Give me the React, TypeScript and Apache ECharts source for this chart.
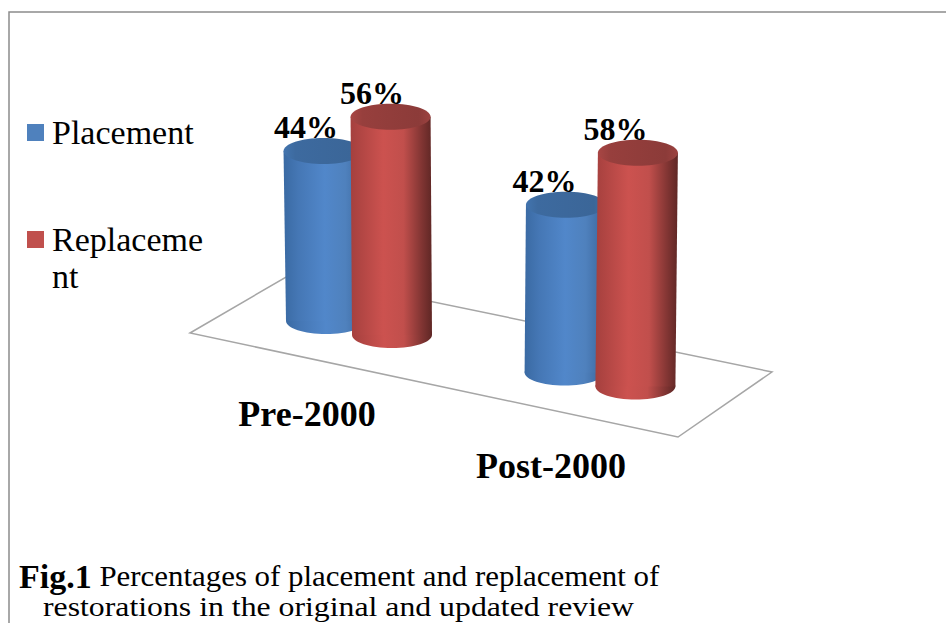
import React, { useEffect, useRef } from "react";
import * as echarts from "echarts";

const categories = ["Pre-2000", "Post-2000"];
const seriesNames = ["Placement", "Replacement"];
const placementValues = [44, 42];
const replacementValues = [56, 58];
const captionBold = "Fig.1";
const captionRest = " Percentages of placement and replacement of";
const captionLine2 = "restorations in the original and updated review";

const FONT = '"Liberation Serif", serif';
const SKEW = 0.2137;
const X0 = 359;

const hGrad = (stops: [number, string][]) => ({
  type: "linear", x: 0, y: 0, x2: 1, y2: 0,
  colorStops: stops.map(([offset, color]) => ({ offset, color })),
});

const bodyFill = [
  hGrad([[0, "#3a6aa3"], [0.18, "#4577b5"], [0.5, "#5187ca"], [0.75, "#4f81bd"], [1, "#39649a"]]),
  hGrad([[0, "#a5403e"], [0.4, "#cc524f"], [0.65, "#c14f4c"], [0.88, "#7f3432"], [1, "#5f2725"]]),
];
const topFill = [
  hGrad([[0, "#4274ae"], [0.15, "#3d6a9f"], [0.85, "#3b6698"], [1, "#4070a8"]]),
  hGrad([[0, "#a84644"], [0.15, "#973f3d"], [0.85, "#8c3b39"], [1, "#9c4240"]]),
];

const place = (api: any, s: number) => {
  const cat = api.value(0);
  const val = api.value(1);
  const base = api.coord([cat, 0]);
  const sign = s === 0 ? -1 : 1;
  const cx = base[0] + sign * (33 + (base[0] - X0) * 0.01);
  const cy = base[1] + (base[0] - X0) * SKEW + sign * 7;
  const h = api.size([0, val])[1] * (1 + (cx - X0) * 0.00014);
  return { val, cx, cy, h };
};

const renderCylinder = (params: any, api: any) => {
  const s = params.seriesIndex;
  const { cx, cy, h } = place(api, s);
  const lean = (cx - 480) * 0.016;
  const tx = cx + lean;
  const ty = cy - h;
  const rx = 40;
  const ry = 13;
  return {
    type: "group",
    children: [
      { type: "ellipse", shape: { cx, cy, rx, ry }, style: { fill: bodyFill[s] } },
      {
        type: "polygon",
        shape: { points: [[tx - rx, ty], [tx + rx, ty], [cx + rx, cy], [cx - rx, cy]] },
        style: { fill: bodyFill[s] },
      },
      { type: "ellipse", shape: { cx: tx, cy: ty, rx, ry }, style: { fill: topFill[s] } },
    ],
  };
};

const renderValueLabel = (params: any, api: any) => {
  const s = params.seriesIndex - 2;
  const { val, cx, cy, h } = place(api, s);
  return {
    type: "text",
    x: cx - 20,
    y: cy - h - 24,
    style: {
      text: `${val}%`,
      font: `bold 32px ${FONT}`,
      fill: "#000",
      align: "center",
      verticalAlign: "middle",
      textAlign: "center",
      textVerticalAlign: "middle",
    },
  };
};

const renderCategoryLabel = (_params: any, api: any) => {
  const cat = api.value(0);
  const base = api.coord([cat, 0]);
  return {
    type: "text",
    x: base[0] - 52 + (base[0] - X0) * 0.012,
    y: base[1] + (base[0] - X0) * SKEW + 86,
    style: {
      text: categories[cat],
      font: `bold 36px ${FONT}`,
      fill: "#000",
      align: "center",
      verticalAlign: "middle",
      textAlign: "center",
      textVerticalAlign: "middle",
    },
  };
};

export default function App() {
  const ref = useRef<HTMLDivElement>(null);
  useEffect(() => {
    const chart = echarts.init(ref.current!, null, { renderer: "svg" });
    const common = { coordinateSystem: "cartesian2d", encode: { x: 0, y: 1 }, clip: false, silent: true };
    chart.setOption({
      animation: false,
      backgroundColor: "#fff",
      color: ["#4f81bd", "#c0504d"],
      grid: { left: 238.5, width: 482, top: 95.2, height: 232.8 },
      xAxis: { type: "category", data: categories, show: false },
      yAxis: { type: "value", min: 0, max: 60, show: false },
      legend: {
        orient: "vertical",
        left: 27,
        top: 114,
        padding: 0,
        itemWidth: 17,
        itemHeight: 17,
        itemGap: 33,
        icon: "rect",
        data: seriesNames,
        formatter: (n: string) => (n === "Replacement" ? "\nReplaceme\nnt" : n),
        textStyle: {
          fontFamily: FONT,
          fontSize: 34,
          lineHeight: 37,
          color: "#000",
          padding: [0, 0, 0, 3],
        },
      },
      graphic: [
        {
          type: "polyline",
          z: -10,
          shape: { points: [[9, 623], [9, 12], [946, 12]] },
          style: { stroke: "#8c8c8c", lineWidth: 1.5, fill: "none" },
        },
        {
          type: "polygon",
          z: -5,
          shape: { points: [[190, 333], [293, 273], [772, 372], [678, 437]] },
          style: { stroke: "#a6a6a6", lineWidth: 1.5, fill: "#fff" },
        },
        {
          type: "text",
          x: 19,
          y: 560,
          scaleX: 1.03,
          style: {
            text: `{b|${captionBold}}{r|${captionRest}}`,
            rich: {
              b: { font: `bold 33px ${FONT}`, fill: "#000" },
              r: { font: `30px ${FONT}`, fill: "#000" },
            },
          },
        },
        {
          type: "text",
          x: 43,
          y: 592,
          scaleX: 1.135,
          style: { text: captionLine2, font: `28px ${FONT}`, fill: "#000" },
        },
      ],
      series: [
        { ...common, type: "custom", name: seriesNames[0], renderItem: renderCylinder, data: placementValues.map((v, i) => [i, v]) },
        { ...common, type: "custom", name: seriesNames[1], renderItem: renderCylinder, data: replacementValues.map((v, i) => [i, v]) },
        { ...common, type: "custom", name: "placementLabels", z: 5, renderItem: renderValueLabel, data: placementValues.map((v, i) => [i, v]) },
        { ...common, type: "custom", name: "replacementLabels", z: 5, renderItem: renderValueLabel, data: replacementValues.map((v, i) => [i, v]) },
        { ...common, type: "custom", name: "categoryLabels", z: 5, renderItem: renderCategoryLabel, data: categories.map((_c, i) => [i, 0]) },
      ],
    });
    return () => chart.dispose();
  }, []);
  return <div ref={ref} style={{ position: "fixed", left: 0, top: 0, width: 946, height: 623, background: "#fff" }} />;
}
